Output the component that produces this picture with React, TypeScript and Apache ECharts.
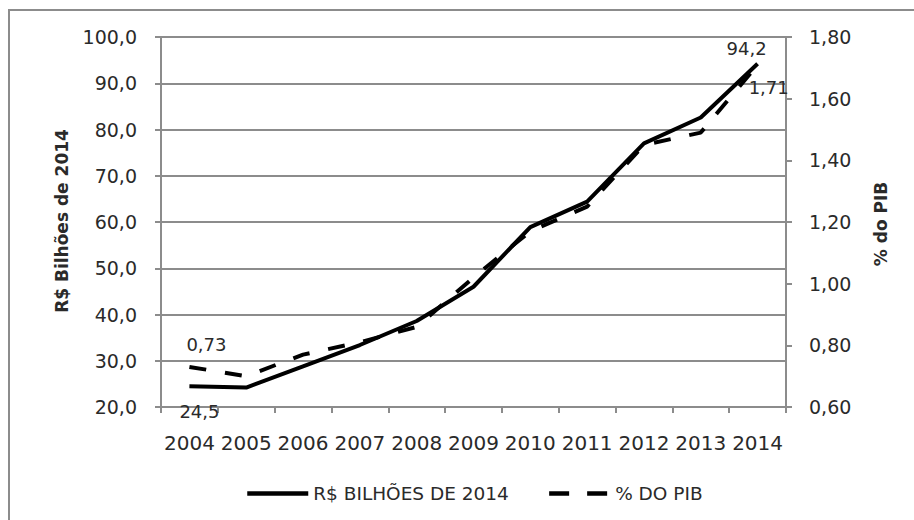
import React, { useEffect, useRef } from "react";
import * as echarts from "echarts";

// Years on the category axis
const years = ["2004", "2005", "2006", "2007", "2008", "2009", "2010", "2011", "2012", "2013", "2014"];
// Spending in R$ billions at 2014 prices (left axis)
const reaisBilhoes = [24.5, 24.2, 28.8, 33.4, 38.6, 46.0, 58.9, 64.4, 77.0, 82.6, 94.2];
// Spending as share of GDP, % (right axis)
const pctPib = [0.73, 0.7, 0.77, 0.81, 0.86, 1.02, 1.17, 1.25, 1.45, 1.49, 1.71];
// Axis ranges
const leftAxis = { min: 20, max: 100, step: 10 };
const rightAxis = { min: 0.6, max: 1.8, step: 0.2 };
// Legend and axis titles
const seriesNames = ["R$ BILHÕES DE 2014", "% DO PIB"];
const leftTitle = "R$ Bilhões de 2014";
const rightTitle = "% do PIB";

const FONT = "DejaVu Sans";
const GRID_GRAY = "#8c8c8c";
const TEXT = "#2a2a2a";
const DASH = [17, 19];

const comma = (v: number, d: number) => v.toFixed(d).replace(".", ",");

export default function App() {
  const ref = useRef<HTMLDivElement>(null);

  useEffect(() => {
    if (!ref.current) return;
    const chart = echarts.init(ref.current, null, { renderer: "svg" });
    const last = years.length - 1;

    const reaisData = reaisBilhoes.map((v, i) => {
      if (i === 0)
        return { value: v, label: { show: true, position: "bottom", offset: [10, 11] } };
      if (i === last)
        return { value: v, label: { show: true, position: "top", offset: [-11, -1] } };
      return v;
    });
    const pibData = pctPib.map((v, i) => {
      if (i === 0)
        return { value: v, label: { show: true, position: "top", offset: [17, -8] } };
      if (i === last)
        return { value: v, label: { show: true, position: "right", offset: [-14, 23] } };
      return v;
    });

    const labelStyle = {
      show: false,
      fontFamily: FONT,
      fontSize: 18,
      color: TEXT,
    };

    chart.setOption({
      animation: false,
      backgroundColor: "#ffffff",
      textStyle: { fontFamily: FONT },
      grid: { left: 161, right: 128, top: 37, bottom: 113, containLabel: false },
      legend: {
        left: 240,
        top: 479,
        itemWidth: 61,
        itemHeight: 14,
        itemGap: 38,
        itemStyle: { opacity: 0 },
        lineStyle: { width: 4.5 },
        textStyle: { fontFamily: FONT, fontSize: 18.5, color: TEXT },
        data: [
          { name: seriesNames[0] },
          { name: seriesNames[1], lineStyle: { type: [20, 18], width: 4.5 } },
        ],
      },
      xAxis: {
        type: "category",
        data: years,
        boundaryGap: true,
        axisLine: { lineStyle: { color: GRID_GRAY, width: 2 } },
        axisTick: { show: true, length: 6, interval: 0, lineStyle: { color: GRID_GRAY, width: 2 } },
        axisLabel: { interval: 0, margin: 26, fontFamily: FONT, fontSize: 20, color: TEXT },
        splitLine: { show: false },
      },
      yAxis: [
        {
          type: "value",
          position: "left",
          min: leftAxis.min,
          max: leftAxis.max,
          interval: leftAxis.step,
          axisLine: { show: true, lineStyle: { color: GRID_GRAY, width: 2 } },
          axisTick: { show: true, length: 6, lineStyle: { color: GRID_GRAY, width: 2 } },
          axisLabel: {
            margin: 24,
            fontFamily: FONT,
            fontSize: 19,
            color: TEXT,
            formatter: (v: number) => comma(v, 1),
          },
          splitLine: { show: true, lineStyle: { color: GRID_GRAY, width: 2 } },
        },
        {
          type: "value",
          position: "right",
          min: rightAxis.min,
          max: rightAxis.max,
          interval: rightAxis.step,
          axisLine: { show: true, lineStyle: { color: GRID_GRAY, width: 2 } },
          axisTick: { show: true, length: 6, lineStyle: { color: GRID_GRAY, width: 2 } },
          axisLabel: {
            margin: 23,
            fontFamily: FONT,
            fontSize: 19,
            color: TEXT,
            formatter: (v: number) => comma(v, 2),
          },
          splitLine: { show: false },
        },
      ],
      series: [
        {
          name: seriesNames[0],
          type: "line",
          yAxisIndex: 0,
          data: reaisData,
          symbol: "circle",
          symbolSize: 0.1,
          showSymbol: true,
          lineStyle: { color: "#000000", width: 4, type: "solid" },
          itemStyle: { color: "#000000" },
          label: { ...labelStyle, formatter: (p: any) => comma(p.value, 1) },
          z: 3,
        },
        {
          name: seriesNames[1],
          type: "line",
          yAxisIndex: 1,
          data: pibData,
          symbol: "circle",
          symbolSize: 0.1,
          showSymbol: true,
          lineStyle: { color: "#000000", width: 4, type: DASH },
          itemStyle: { color: "#000000" },
          label: { ...labelStyle, formatter: (p: any) => comma(p.value, 2) },
          z: 2,
        },
      ],
      graphic: [
        {
          type: "rect",
          shape: { x: 9, y: 10, width: 1000, height: 600 },
          style: { fill: "none", stroke: GRID_GRAY, lineWidth: 2 },
          silent: true,
          z: -1,
        },
        {
          type: "text",
          x: 62,
          y: 221,
          rotation: Math.PI / 2,
          style: {
            text: leftTitle,
            fontFamily: FONT,
            fontWeight: "bold",
            fontSize: 17,
            fill: TEXT,
            align: "center",
            verticalAlign: "middle",
          },
        },
        {
          type: "text",
          x: 881,
          y: 224,
          rotation: Math.PI / 2,
          style: {
            text: rightTitle,
            fontFamily: FONT,
            fontWeight: "bold",
            fontSize: 17,
            fill: TEXT,
            align: "center",
            verticalAlign: "middle",
          },
        },
      ],
    });

    return () => chart.dispose();
  }, []);

  return (
    <div
      ref={ref}
      style={{ position: "fixed", left: 0, top: 0, width: 914, height: 520, background: "#fff" }}
    />
  );
}
